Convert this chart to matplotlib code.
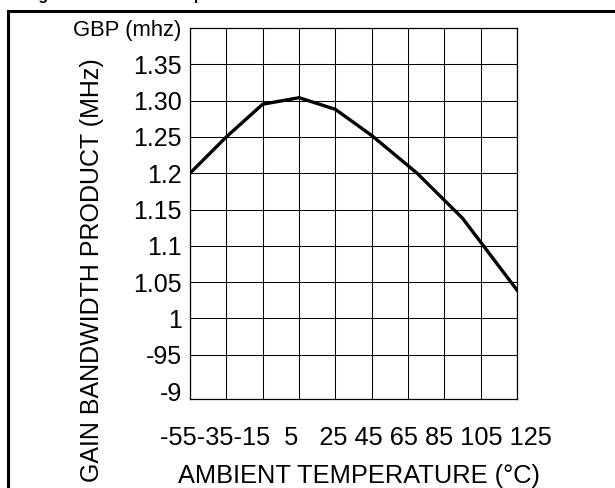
import matplotlib
import matplotlib.pyplot as plt
from matplotlib.patches import Rectangle

matplotlib.use('Agg')

plt.rcParams['font.family'] = ['Liberation Sans', 'DejaVu Sans']

# Data
temperature = [-55, -35, -15, 5, 25, 45, 70, 95, 125]
gbp_mhz = [1.20, 1.25, 1.295, 1.304, 1.288, 1.252, 1.20, 1.138, 1.039]

# Axis labelling (typos kept as in the original)
x_grid = [-55, -35, -15, 5, 25, 45, 65, 85, 105, 125]
x_tick_labels = ['-55', '-35', '-15', '5', '25', '45', '65', '85', '105', '125']
x_label_gaps = ['', '', '  ', '   ', ' ', ' ', ' ', ' ', ' ']
y_ticks = [1.40, 1.35, 1.30, 1.25, 1.20, 1.15, 1.10, 1.05, 1.00, 0.95, 0.90]
y_tick_labels = ['GBP (mhz)', '1.35', '1.30', '1.25', '1.2', '1.15', '1.1',
                 '1.05', '1', '-95', '-9']

W, H = 615, 488
fig = plt.figure(figsize=(W / 100, H / 100), dpi=100)


def fx(px):
    return px / W


def fy(py):
    return 1 - py / H


# outer frame of the datasheet figure, cut by the image edges
fig.patches.append(Rectangle((fx(7.5), -0.2), 1.5, fy(11) + 0.2,
                             transform=fig.transFigure, fill=False,
                             edgecolor='black', linewidth=2.2))

# caption, only its lowest part shows at the top edge
fig.text(fx(24), fy(0.3), 'Figure 6: GBP vs. Temperature.',
         fontsize=11.5, fontweight='bold', ha='left', va='baseline')

ax = fig.add_axes([fx(190), fy(399), fx(517) - fx(190), fy(28) - fy(399)])
ax.plot(temperature, gbp_mhz, color='black', linewidth=2.4,
        solid_joinstyle='round', zorder=3)

ax.set_xlim(-55, 125)
ax.set_ylim(0.889, 1.40)

ax.set_xticks(x_grid)
ax.set_xticklabels([])
ax.set_yticks(y_ticks)
ax.set_yticklabels(y_tick_labels, fontsize=18)
ax.tick_params(length=0, pad=6)
ax.get_yticklabels()[0].set_fontsize(15.8)

ax.grid(True, color='black', linewidth=0.75)
# top one is the frame, the lowest label has no grid line of its own
ax.get_ygridlines()[-1].set_visible(False)
ax.get_ygridlines()[0].set_visible(False)

for s in ax.spines.values():
    s.set_linewidth(0.9)
    s.set_color('black')

# x labels were typed as one string in the original, so they do not sit on the grid
label_str = ''.join(g + t for g, t in zip([''] + x_label_gaps, x_tick_labels))
fig.text(fx(160), fy(445), label_str, fontsize=18.3, ha='left', va='baseline')
fig.text(fx(359), fy(483.5), 'AMBIENT TEMPERATURE (°C)', fontsize=18.3,
         ha='center', va='baseline')
fig.text(fx(92.5), fy(270), 'GAIN BANDWIDTH PRODUCT (MHz)', fontsize=18,
         rotation=90, ha='center', va='center')

fig.savefig('out.png', dpi=100)
